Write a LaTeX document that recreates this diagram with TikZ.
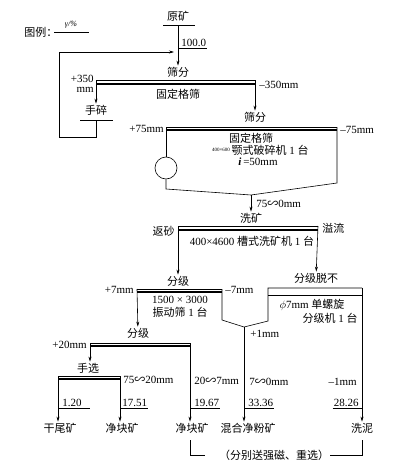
\documentclass[tikz,border=0pt]{standalone}
\usepackage{fontspec}
\setmainfont{Liberation Serif}
\newfontfamily\cjk{Noto Sans CJK SC}
\newcommand{\zh}[1]{{\cjk #1}}
\usetikzlibrary{arrows.meta}

\tikzset{every picture/.style={line width=0.6pt},
  lbl/.style={inner sep=1pt, font=\fontsize{11}{13}\selectfont},
  tiny/.style={inner sep=0pt, font=\fontsize{5}{6}\selectfont},
  flow/.style={-{Stealth[length=5pt,width=3pt]}},
  deck/.style={line width=1.2pt}}

\begin{document}
\begin{tikzpicture}[x=1pt,y=1pt,yscale=-1,xscale=1]
        \useasboundingbox (0,0) rectangle (414,466);

        % Text Node legend
        \node [lbl, anchor=west] (legend) at (23,32) {\zh{图例：}};
        \coordinate (lgA) at (54,32);
        \coordinate (lgB) at (89,32);
        \draw (lgA) -- (lgB);
        \node [lbl, font=\fontsize{8}{9}\selectfont] (lgtxt) at (71,25) {\itshape γ/\%};

        % Text Node raw ore
        \node [lbl] (ore) at (178,16) {\zh{原矿}};
        \coordinate (oreL) at (163,25);
        \coordinate (oreR) at (195,25);
        \coordinate (ore0) at (178,25);
        \draw (oreL) -- (oreR);
        \node [lbl] (s1) at (178,72) {\zh{筛分}};
        \draw [flow] (ore0) -- (s1);
        \node [lbl, anchor=south west] (y100) at (180,48) {100.0};
        \draw (ore0 |- y100.south) -- (y100.south east);

        %Straight Lines grid screen 1
        \coordinate (sc1L) at (96,80);
        \coordinate (sc1R) at (255,80);
        \coordinate (sc1l) at (96,84);
        \coordinate (sc1r) at (255,84);
        \draw (sc1L) -- (sc1R);
        \draw [deck] (sc1l) -- (sc1r);
        \node [lbl, anchor=east] (p350) at (95,79) {+350};
        \node [lbl, anchor=east] (p350mm) at (95,90) {mm};
        \node [lbl, anchor=west] (m350) at (258,85) {–350mm};
        \node [lbl] (grid1) at (178,94) {\zh{固定格筛}};
        \node [lbl] (hand) at (96,110) {\zh{手碎}};
        \draw [flow] (sc1L) -- (hand);
        \node [lbl] (s2) at (255,117) {\zh{筛分}};
        \draw [flow] (sc1R) -- (s2);

        % return of hand broken ore
        \coordinate (handL) at (80,120);
        \coordinate (handR) at (113,120);
        \coordinate (hb) at (96,120);
        \coordinate (ret) at (174,52);
        \draw (handL) -- (handR);
        \draw [flow] (hb) |- (59,137) |- (ret);

        %Straight Lines grid screen 2 and jaw crusher
        \coordinate (c2L) at (166,127);
        \coordinate (c2R) at (337,127);
        \draw (c2L) -- (c2R);
        \draw [deck] (166,130) -- (337,130);
        \node [lbl, anchor=east] (p75) at (165,129) {+75mm};
        \node [lbl, anchor=west] (m75) at (339,130) {–75mm};
        \node [draw, circle, minimum size=22pt, inner sep=0pt] (crusher) at (166,168) {};
        \coordinate (fb) at (166,189);
        \coordinate (fm) at (251,195);
        \coordinate (fr) at (337,183);
        \draw (c2L) -- (crusher);
        \draw (crusher) -- (fb) -- (fm) -- (fr) -- (c2R);
        \node [lbl] (grid2) at (251,138) {\zh{固定格筛}};
        \node [lbl] (jaw) at (270,150) {\zh{颚式破碎机} 1 \zh{台}};
        \node [tiny, anchor=east] (jawsz) at (jaw.west) {400×600};
        \node [lbl] (gap) at (258,162) {\textbf{\textit{i}}\,=50mm};

        % Text Node washing
        \node [lbl] (wash) at (251,218) {\zh{洗矿}};
        \draw [flow] (fm) -- (wash);
        \node [lbl, anchor=west] (r75) at (255,204) {75\zh{∽}0mm};
        \coordinate (wL) at (178,226);
        \coordinate (wR) at (318,226);
        \draw (wL) -- (wR);
        \draw [deck] (178,230) -- (318,230);
        \node [lbl, anchor=east] (sand) at (176,231) {\zh{返砂}};
        \node [lbl, anchor=west] (over) at (321,228) {\zh{溢流}};
        \node [lbl] (washer) at (252,241) {400×4600 \zh{槽式洗矿机} 1 \zh{台}};
        \node [lbl] (cls1) at (178,281) {\zh{分级}};
        \draw [flow] (wL) -- (cls1);
        \node [lbl] (desl) at (316,278) {\zh{分级脱不}};
        \draw [flow] (wR) -- (desl);

        %Straight Lines vibrating screen
        \coordinate (vL) at (137,289);
        \coordinate (vR) at (222,289);
        \draw (vL) -- (vR);
        \draw [deck] (137,292) -- (222,292);
        \node [lbl, anchor=east] (p7) at (135,290) {+7mm};
        \node [lbl, anchor=west] (m7) at (224,290) {–7mm};
        \node [lbl] (vib1) at (180,300) {1500 × 3000};
        \node [lbl] (vib2) at (180,312) {\zh{振动筛} 1 \zh{台}};
        \node [lbl] (cls2) at (138,333) {\zh{分级}};
        \draw [flow] (vL) -- (cls2);

        %Shape: spiral classifier with hopper
        \coordinate (vb) at (222,320);
        \coordinate (fun) at (244,327);
        \coordinate (kb) at (268,321);
        \coordinate (kL) at (268,288);
        \coordinate (kR) at (362,288);
        \draw (vR) -- (vb) -- (fun) -- (kb) -- (kL) -- (kR);
        \draw (268,295) -- (362,295);
        \node [lbl] (spiral1) at (312,305) {$\phi$7mm \zh{单螺旋}};
        \node [lbl] (spiral2) at (330,318) {\zh{分级机} 1 \zh{台}};
        \node [lbl] (mud) at (362,428) {\zh{洗泥}};
        \draw [flow] (kR) -- (mud);
        \node [lbl] (fines) at (248,428) {\zh{混合净粉矿}};
        \draw [flow] (fun) -- (fun |- fines.north);
        \node [lbl, anchor=west] (p1) at (249,334) {+1mm};
        \node [lbl, anchor=west] (r7) at (248,382) {7\zh{∽}0mm};
        \node [lbl, anchor=east] (m1) at (358,382) {–1mm};
        \node [lbl, anchor=south west] (y3336) at (247,408) {33.36};
        \draw (fun |- y3336.south) -- (y3336.south east);
        \node [lbl, anchor=south east] (y2826) at (360,408) {28.26};
        \draw (y2826.south west) -- (kR |- y2826.south);

        %Straight Lines second classifying
        \coordinate (c3L) at (90,343);
        \coordinate (c3R) at (190,343);
        \draw (c3L) -- (c3R);
        \draw [deck] (90,346) -- (190,346);
        \node [lbl, anchor=east] (p20) at (88,345) {+20mm};
        \node [lbl] (pick) at (88,368) {\zh{手选}};
        \draw [flow] (c3L) -- (c3L |- pick.north);
        \node [lbl] (lump2) at (192,428) {\zh{净块矿}};
        \draw [flow] (c3R) -- (c3R |- lump2.north);
        \node [lbl, anchor=west] (r207) at (193,381) {20\zh{∽}7mm};
        \node [lbl, anchor=south west] (y1967) at (193,408) {19.67};
        \draw (c3R |- y1967.south) -- (y1967.south east);

        %Straight Lines hand picking
        \coordinate (hL) at (58,376);
        \coordinate (hR) at (120,376);
        \draw (hL) -- (hR);
        \draw [deck] (58,379) -- (120,379);
        \node [lbl, anchor=west] (r7520) at (122,380) {75\zh{∽}20mm};
        \node [lbl] (waste) at (60,428) {\zh{干尾矿}};
        \draw [flow] (hL) -- (hL |- waste.north);
        \node [lbl] (lump1) at (122,428) {\zh{净块矿}};
        \draw [flow] (hR) -- (hR |- lump1.north);
        \node [lbl, anchor=south west] (y120) at (61,408) {1.20};
        \draw (hL |- y120.south) -- ++(32,0);
        \node [lbl, anchor=south west] (y1751) at (121,408) {17.51};
        \draw (hR |- y1751.south) -- (y1751.south east);

        % Text Node bracket note
        \node [lbl] (note) at (274,455) {\zh{（分别送强磁、重选）}};
        \coordinate (bkL) at (190,440);
        \coordinate (bkR) at (362,440);
        \draw (bkL) |- (205,455);
        \draw (note.east) -| (bkR);

\end{tikzpicture}
\end{document}
